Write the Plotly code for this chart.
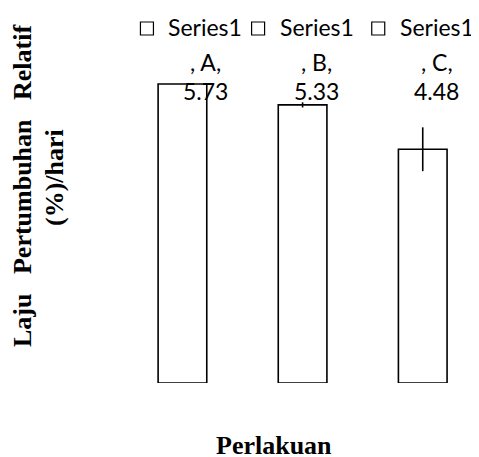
import plotly.graph_objects as go

# Data
categories = ["A", "B", "C"]
values = [5.73, 5.33, 4.48]
errors = [0.0, 0.05, 0.42]
series_name = "Series1"
x_title = "Perlakuan"
y_title_line1 = "Laju\u00a0\u00a0 Pertumbuhan\u00a0\u00a0 Relatif"
y_title_line2 = "(%)/hari"

# The page body has an 8px default margin: draw the figure 8px smaller
# and express positions in window pixels minus that offset.
OFF = 8
W, H = 479 - OFF, 457 - OFF
L, R, T = 122 - OFF, 0, 0
PLOT_BOTTOM = 383 - OFF
B = H - PLOT_BOTTOM
PW, PH = W - L - R, PLOT_BOTTOM - T


def px2x(px):
    return (px - OFF - L) / PW


def py2y(py):
    return (PLOT_BOTTOM - (py - OFF)) / PH


fig = go.Figure()
fig.add_trace(go.Bar(
    x=categories,
    y=values,
    width=0.405,
    marker=dict(color="white", line=dict(color="black", width=1.6)),
    error_y=dict(type="data", array=errors, visible=True, color="black",
                 thickness=1.6, width=0),
    showlegend=False,
    hoverinfo="skip",
))

label_shift = [23, 14, 14]
label_font = dict(family="Lato, Open Sans, sans-serif", size=23, color="black")
annotations = []
shapes = []
for i, (c, v) in enumerate(zip(categories, values)):
    lines = [series_name, f", {c},", f"{v:.2f}"]
    centers = [27, 62, 91]
    for txt, cy in zip(lines, centers):
        annotations.append(dict(
            x=c, xref="x", y=py2y(cy), yref="paper",
            text=txt, showarrow=False, xanchor="center", yanchor="middle",
            xshift=label_shift[i], font=label_font,
        ))
    shapes.append(dict(
        type="rect", xref="x", xsizemode="pixel", xanchor=i,
        x0=label_shift[i] - 65, x1=label_shift[i] - 52,
        yref="paper", y0=py2y(35), y1=py2y(22),
        line=dict(color="black", width=1.2), fillcolor="white",
    ))

serif = dict(family="Liberation Serif, Times New Roman, serif", size=26, color="black")
annotations += [
    dict(x=px2x(22), y=py2y(186), xref="paper", yref="paper", text=f"<b>{y_title_line1}</b>",
         textangle=-90, showarrow=False, xanchor="center", yanchor="middle", font=serif),
    dict(x=px2x(54), y=py2y(178), xref="paper", yref="paper", text=f"<b>{y_title_line2}</b>",
         textangle=-90, showarrow=False, xanchor="center", yanchor="middle", font=serif),
    dict(x=px2x(274), y=py2y(445), xref="paper", yref="paper", text=f"<b>{x_title}</b>",
         showarrow=False, xanchor="center", yanchor="middle", font=serif),
]

fig.update_layout(
    width=W, height=H,
    margin=dict(l=L, r=R, t=T, b=B, pad=0),
    paper_bgcolor="white", plot_bgcolor="white",
    xaxis=dict(range=[-0.503, -0.503 + PW / 120.15], showgrid=False, zeroline=False,
               showline=False, showticklabels=False, ticks=""),
    yaxis=dict(range=[0, PH / 52.18], showgrid=False, zeroline=False,
               showline=False, showticklabels=False, ticks=""),
    annotations=annotations,
    shapes=shapes,
    showlegend=False,
)

fig.write_html("out.html")
